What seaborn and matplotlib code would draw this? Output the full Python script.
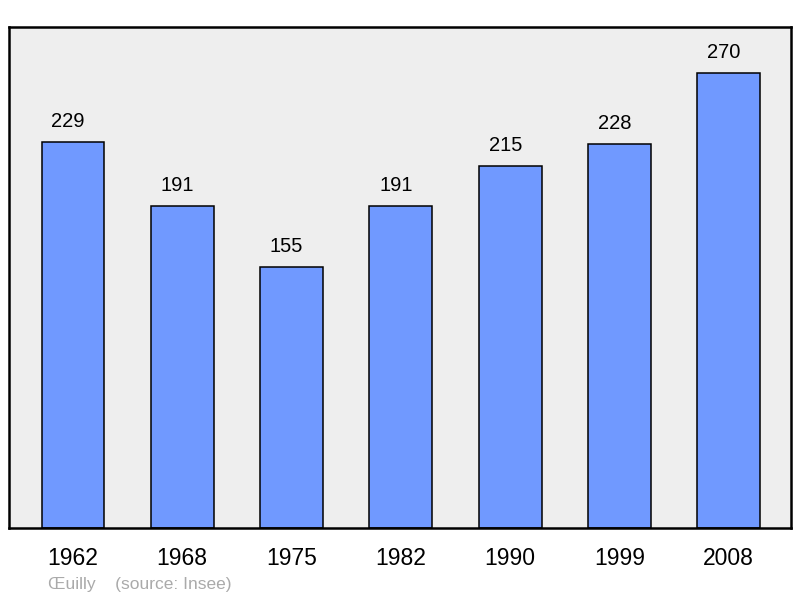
import matplotlib
matplotlib.use("Agg")
import matplotlib.pyplot as plt
import seaborn as sns
import pandas as pd

years = ["1962", "1968", "1975", "1982", "1990", "1999", "2008"]
population = [229, 191, 155, 191, 215, 228, 270]
footer = "Œuilly    (source: Insee)"

sns.set_theme(style="white")
plt.rcParams['font.family'] = ['Liberation Sans', 'DejaVu Sans']

df = pd.DataFrame({"year": years, "pop": population})

fig = plt.figure(figsize=(8, 5.98), dpi=100)
ax = fig.add_axes([9/800, 70/598, 782/800, 501/598])
ax.set_facecolor("#eeeeee")

sns.barplot(data=df, x="year", y="pop", color="#7099ff", saturation=1,
            width=0.575, edgecolor="black", linewidth=1.1, ax=ax)

for i, v in enumerate(population):
    ax.annotate(str(v), (i, v), xytext=(-3.5, 14.5), textcoords="offset points",
                ha="center", va="center", fontsize=14.5, color="black")

ax.set_xlim(-0.585, 6.57)
ax.set_ylim(0, 297.3)
ax.set_xlabel("")
ax.set_ylabel("")
ax.set_yticks([])
ax.tick_params(axis="x", length=0, pad=14, labelsize=16.5, colors="black")
for s in ax.spines.values():
    s.set_visible(True)
    s.set_color("black")
    s.set_linewidth(1.8)

fig.text(48/800, 1 - 584/598, footer, fontsize=12.5, color="#aaaaaa",
         ha="left", va="center")

fig.savefig("out.png", dpi=100)
